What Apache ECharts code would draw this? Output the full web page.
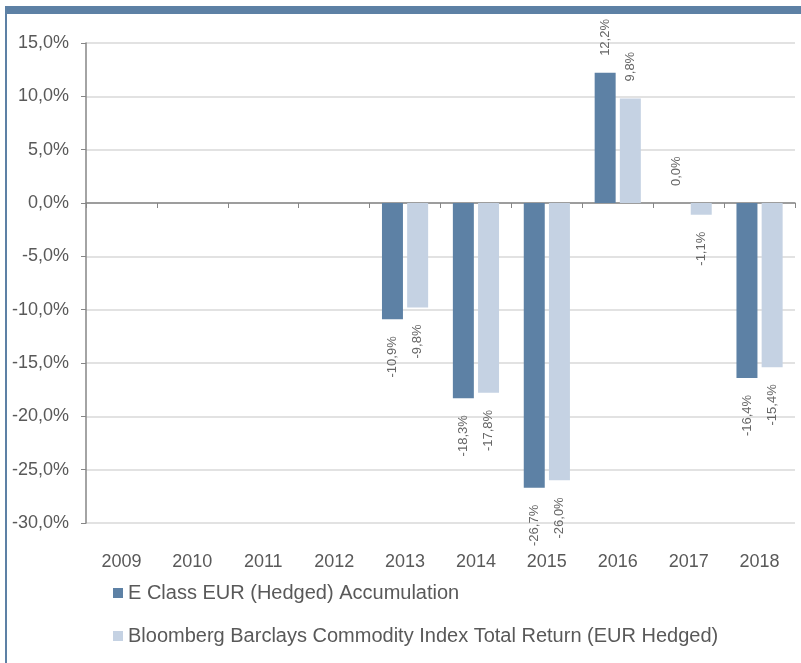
<!DOCTYPE html>
<html>
<head>
<meta charset="utf-8">
<script src="https://cdn.jsdelivr.net/npm/echarts@6/dist/echarts.min.js"></script>
<style>
    html, body { margin: 0; padding: 0; background: #fff; }
    #frame {
        position: absolute; left: 5px; top: 6px; right: 0; bottom: 0;
        border-top: 8px solid #5d81a5; border-left: 2px solid #5d81a5;
    }
    #chart { position: absolute; left: 0; top: 0; width: 801px; height: 663px; }
</style>
</head>
<body>
<div id="frame"></div>
<div id="chart"></div>
<script>
    const years = ['2009', '2010', '2011', '2012', '2013', '2014', '2015', '2016', '2017', '2018']
    const fundName = 'E Class EUR (Hedged) Accumulation'
    const indexName = 'Bloomberg Barclays Commodity Index Total Return (EUR Hedged)'
    const fundValues = [null, null, null, null, -10.9, -18.3, -26.7, 12.2, 0.0, -16.4]
    const indexValues = [null, null, null, null, -9.8, -17.8, -26.0, 9.8, -1.1, -15.4]

    const darkBlue = '#5d81a5'
    const lightBlue = '#c5d2e3'
    const textGrey = '#595959'

    function pct(v) {
        return v.toFixed(1).replace('.', ',') + '%'
    }

    // rotated labels sit above positive bars and below negative ones
    function withLabels(values) {
        return values.map(function (v) {
            if (v === null) return null
            const neg = v < 0
            return {
                value: v,
                label: {
                    position: neg ? 'bottom' : 'top',
                    align: neg ? 'right' : 'left'
                }
            }
        })
    }

    const barLabel = {
        show: true,
        rotate: 90,
        distance: 17,
        verticalAlign: 'middle',
        color: '#666666',
        fontSize: 13,
        fontFamily: 'Liberation Sans, Arial, sans-serif',
        formatter: function (p) { return pct(p.value) }
    }

    var chart = echarts.init(document.getElementById('chart'))

    chart.setOption({
        animation: false,
        textStyle: { fontFamily: 'Liberation Sans, Arial, sans-serif' },
        grid: { left: 86, top: 43, right: 6, height: 480 },
        legend: {
            orient: 'vertical',
            left: 113,
            top: 583,
            padding: 0,
            itemWidth: 10,
            itemHeight: 10,
            itemGap: 23,
            icon: 'rect',
            textStyle: { color: textGrey, fontSize: 20 },
            data: [fundName, indexName]
        },
        xAxis: [{
            type: 'category',
            data: years,
            position: 'bottom',
            axisLine: { show: false, onZero: false },
            axisTick: { show: false },
            axisLabel: { color: textGrey, fontSize: 18, margin: 30 }
        }, {
            type: 'category',
            data: years,
            position: 'bottom',
            axisLine: { show: true, onZero: true, lineStyle: { color: '#868686', width: 1.5 } },
            axisTick: { show: true, length: 5, lineStyle: { color: '#868686' } },
            axisLabel: { show: false }
        }],
        yAxis: {
            type: 'value',
            min: -30,
            max: 15,
            interval: 5,
            axisLine: { show: true, lineStyle: { color: '#868686', width: 1.5 } },
            axisTick: { show: true, length: 5, lineStyle: { color: '#868686' } },
            axisLabel: { color: textGrey, fontSize: 18, margin: 17, formatter: pct },
            splitLine: { lineStyle: { color: '#d9d9d9', width: 1.5 } }
        },
        series: [{
            name: fundName,
            type: 'bar',
            xAxisIndex: 0,
            barWidth: '29.6%',
            barGap: '20%',
            itemStyle: { color: darkBlue },
            label: barLabel,
            data: withLabels(fundValues)
        }, {
            name: indexName,
            type: 'bar',
            xAxisIndex: 0,
            barWidth: '29.6%',
            barGap: '20%',
            itemStyle: { color: lightBlue },
            label: barLabel,
            data: withLabels(indexValues)
        }]
    })
</script>
</body>
</html>
